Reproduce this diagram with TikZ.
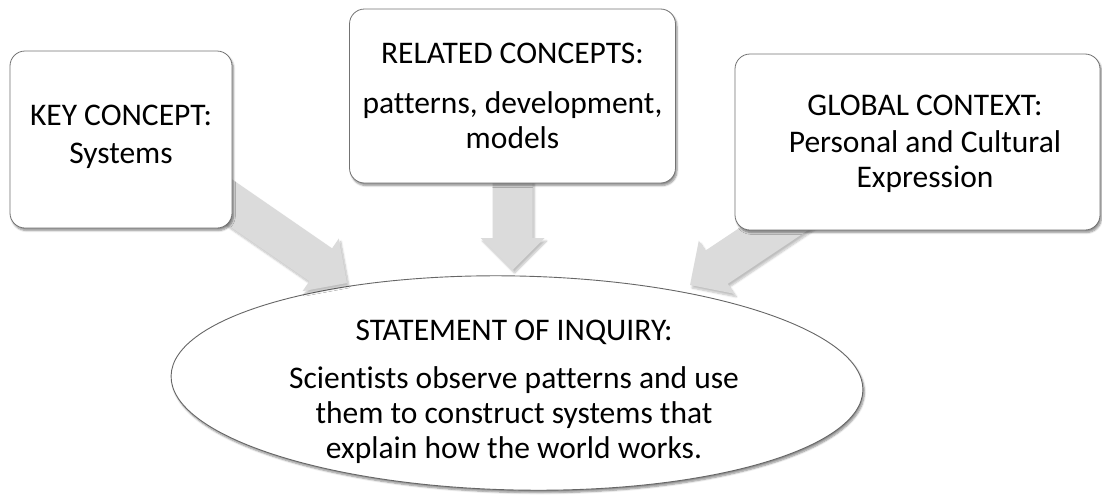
\documentclass[tikz,border=0pt]{standalone}
\usepackage{fontspec}
\setmainfont{Carlito}[Ligatures=NoCommon]
\usetikzlibrary{shapes.geometric,shadows.blur,calc}
\tikzset{
  box/.style={draw=black!55, line width=0.8pt, fill=white, rounded corners=15pt, inner sep=0pt,
    blur shadow={shadow xshift=1.5pt, shadow yshift=-2.5pt, shadow blur steps=6, shadow opacity=45}},
  oval/.style={draw=black!60, line width=0.9pt, fill=white, ellipse, inner sep=0pt,
    blur shadow={shadow xshift=1.5pt, shadow yshift=-2.5pt, shadow blur steps=6, shadow opacity=45}},
  lbl/.style={anchor=base, inner sep=0pt, font=\fontsize{31.5}{38}\selectfont},
  fat/.style={fill=black!14, draw=none,
    blur shadow={shadow xshift=2pt, shadow yshift=-3pt, shadow blur steps=6, shadow opacity=25}},
}
\newcommand\fatarrow[3]{% name, start, tip
  \coordinate (#1h) at ($(#3)!32pt!(#2)$);
  \fill[fat] ($(#2)!20pt!90:(#3)$) -- ($(#1h)!20pt!90:(#3)$) -- ($(#1h)!32pt!90:(#3)$)
    -- (#3) -- ($(#1h)!32pt!-90:(#3)$) -- ($(#1h)!20pt!-90:(#3)$) -- ($(#2)!20pt!-90:(#3)$) -- cycle;
}
\begin{document}
\begin{tikzpicture}[x=1pt,y=-1pt]
\useasboundingbox (0,0) rectangle (1102,498);
% statement of inquiry
\node[oval, minimum width=692pt, minimum height=214pt, rotate=-1.2] (soi) at (517,383) {};
% arrows
\coordinate (s1) at (189,174); \coordinate (t1) at (347,283);
\coordinate (s2) at (512.5,150); \coordinate (t2) at (512.5,270);
\coordinate (s3) at (832,190); \coordinate (t3) at (690,285);
\fatarrow{a1}{s1}{t1}
\fatarrow{a2}{s2}{t2}
\fatarrow{a3}{s3}{t3}
% boxes
\node[box, minimum width=222pt, minimum height=177pt] (key) at (121,139.5) {};
\node[box, minimum width=326pt, minimum height=174pt] (rel) at (512.5,96) {};
\node[box, minimum width=365pt, minimum height=176pt] (glob) at (917.5,142) {};
% texts
\node[lbl] (key1) at (121,125) {KEY CONCEPT:};
\node[lbl] (key2) at (121,163) {Systems};
\node[lbl] (rel1) at (512.5,63) {RELATED CONCEPTS:};
\node[lbl] (rel2) at (512.5,113) {patterns, development,};
\node[lbl] (rel3) at (512.5,148) {models};
\node[lbl] (glob1) at (925,115) {GLOBAL CONTEXT:};
\node[lbl] (glob2) at (925,152) {Personal and Cultural};
\node[lbl] (glob3) at (925,187) {Expression};
\node[lbl] (soi1) at (514,340) {STATEMENT OF INQUIRY:};
\node[lbl] (soi2) at (514,388) {Scientists observe patterns and use};
\node[lbl] (soi3) at (514,423) {them to construct systems that};
\node[lbl] (soi4) at (514,458) {explain how the world works.};
\end{tikzpicture}
\end{document}
